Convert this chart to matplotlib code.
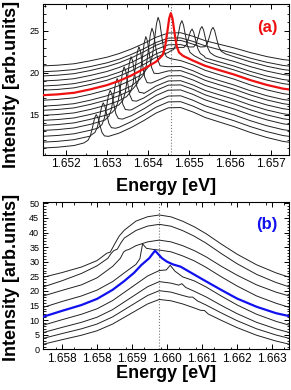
import numpy as np
import matplotlib.pyplot as plt
from matplotlib.ticker import MultipleLocator, FixedLocator

plt.rcParams['font.family'] = ['Liberation Sans', 'DejaVu Sans']

# ---------------- panel (a) data ----------------
grid_a = [1.6514, 1.6518, 1.6522, 1.6526, 1.6530, 1.6533, 1.6536, 1.6539, 1.6542, 1.6545,
          1.6548, 1.6551, 1.6554, 1.6557, 1.6561, 1.6565, 1.6569, 1.6573, 1.6576]
# broad background of each spectrum (bottom to top)
bg_a = [
    [11.0, 11.11, 11.31, 11.74, 12.26, 12.79, 13.47, 14.28, 15.18, 15.81, 15.84, 15.31, 14.65, 14.18, 13.57, 12.87, 12.27, 11.80, 11.60],
    [11.7, 11.81, 12.01, 12.44, 12.96, 13.49, 14.17, 14.98, 15.88, 16.51, 16.54, 16.01, 15.35, 14.88, 14.27, 13.57, 12.97, 12.50, 12.30],
    [12.4, 12.51, 12.71, 13.14, 13.66, 14.19, 14.87, 15.68, 16.58, 17.21, 17.24, 16.71, 16.05, 15.58, 14.97, 14.27, 13.67, 13.20, 13.00],
    [13.1, 13.21, 13.41, 13.84, 14.36, 14.89, 15.57, 16.38, 17.28, 17.91, 17.94, 17.41, 16.75, 16.28, 15.67, 14.97, 14.37, 13.90, 13.70],
    [13.7, 13.81, 14.01, 14.44, 14.96, 15.49, 16.17, 16.98, 17.88, 18.51, 18.54, 18.01, 17.35, 16.88, 16.27, 15.57, 14.97, 14.50, 14.30],
    [14.3, 14.41, 14.60, 15.02, 15.54, 16.06, 16.72, 17.51, 18.40, 19.01, 19.04, 18.53, 17.88, 17.42, 16.83, 16.14, 15.55, 15.10, 14.90],
    [14.9, 15.01, 15.20, 15.62, 16.14, 16.66, 17.32, 18.11, 19.00, 19.61, 19.64, 19.13, 18.48, 18.02, 17.43, 16.74, 16.15, 15.70, 15.50],
    [15.5, 15.61, 15.80, 16.22, 16.74, 17.26, 17.92, 18.71, 19.60, 20.21, 20.24, 19.73, 19.08, 18.62, 18.03, 17.34, 16.75, 16.30, 16.10],
    [16.0, 16.11, 16.30, 16.72, 17.24, 17.76, 18.42, 19.21, 20.10, 20.71, 20.74, 20.23, 19.58, 19.12, 18.53, 17.84, 17.25, 16.80, 16.60],
    [16.7, 16.81, 17.00, 17.42, 17.94, 18.46, 19.12, 19.91, 20.80, 21.41, 21.44, 20.93, 20.28, 19.82, 19.23, 18.54, 17.95, 17.50, 17.30],
    [17.3, 17.41, 17.60, 18.01, 18.51, 19.02, 19.67, 20.45, 21.31, 21.91, 21.94, 21.44, 20.81, 20.36, 19.78, 19.11, 18.54, 18.09, 17.90],
    [17.9, 18.00, 18.19, 18.60, 19.09, 19.59, 20.22, 20.98, 21.83, 22.41, 22.44, 21.96, 21.34, 20.90, 20.33, 19.68, 19.12, 18.69, 18.50],
    [18.4, 18.50, 18.69, 19.08, 19.56, 20.05, 20.67, 21.41, 22.24, 22.82, 22.85, 22.37, 21.77, 21.34, 20.79, 20.15, 19.60, 19.18, 19.00],
    [19.0, 19.10, 19.28, 19.67, 20.14, 20.62, 21.22, 21.95, 22.76, 23.32, 23.35, 22.88, 22.30, 21.88, 21.34, 20.72, 20.19, 19.78, 19.60],
    [19.6, 19.70, 19.88, 20.26, 20.72, 21.18, 21.77, 22.48, 23.27, 23.82, 23.85, 23.40, 22.83, 22.42, 21.90, 21.29, 20.77, 20.37, 20.20],
    [20.1, 20.20, 20.37, 20.73, 21.17, 21.61, 22.18, 22.85, 23.60, 24.12, 24.15, 23.73, 23.19, 22.80, 22.30, 21.73, 21.24, 20.86, 20.70],
    [20.8, 20.89, 21.06, 21.42, 21.84, 22.28, 22.83, 23.48, 24.22, 24.73, 24.76, 24.34, 23.81, 23.44, 22.96, 22.40, 21.92, 21.56, 21.40],
]
# sharp QD line on each spectrum (None = no line visible)
peak_center = [1.65274, 1.65291, 1.65308, 1.65325, 1.65342, 1.65359, 1.65378,
               1.65395, 1.65410, 1.65425, 1.65456, 1.65483, 1.65508, 1.65532,
               1.65559, None, None]
peak_offsets = [-0.0003, -0.0002, -0.00014, -0.00009, -0.00004, 0.0,
                0.00004, 0.00009, 0.00014, 0.0002, 0.0003]
peak_vals = [
    [11.62, 11.94, 12.51, 13.49, 14.58, 15.0, 14.68, 13.73, 12.87, 12.46, 12.40],
    [12.53, 12.88, 13.53, 14.67, 15.91, 16.4, 16.03, 14.93, 13.93, 13.44, 13.37],
    [13.38, 13.81, 14.58, 15.90, 17.34, 17.9, 17.48, 16.22, 15.08, 14.53, 14.46],
    [14.34, 14.81, 15.65, 17.10, 18.68, 19.3, 18.84, 17.46, 16.21, 15.61, 15.54],
    [15.22, 15.74, 16.68, 18.27, 20.02, 20.7, 20.20, 18.69, 17.32, 16.66, 16.60],
    [16.14, 16.69, 17.66, 19.34, 21.18, 21.9, 21.38, 19.78, 18.34, 17.65, 17.58],
    [17.14, 17.73, 18.74, 20.47, 22.35, 23.1, 22.57, 20.95, 19.50, 18.81, 18.76],
    [18.15, 18.77, 19.81, 21.59, 23.53, 24.3, 23.77, 22.11, 20.63, 19.93, 19.89],
    [19.19, 19.78, 20.82, 22.60, 24.54, 25.3, 24.74, 23.06, 21.54, 20.82, 20.75],
    [20.32, 20.91, 21.98, 23.82, 25.82, 26.6, 26.02, 24.27, 22.68, 21.91, 21.67],
    [21.59, 22.10, 23.05, 24.70, 26.47, 27.1, 26.48, 24.78, 23.23, 22.41, 22.00],
    [22.53, 22.77, 23.39, 24.54, 25.78, 26.2, 25.68, 24.35, 23.12, 22.41, 22.02],
    [23.02, 23.01, 23.35, 24.10, 24.93, 25.2, 24.79, 23.78, 22.85, 22.29, 21.94],
    [23.06, 23.07, 23.46, 24.28, 25.21, 25.5, 25.07, 23.98, 22.98, 22.39, 22.04],
    [23.06, 23.09, 23.47, 24.25, 25.11, 25.4, 25.01, 24.01, 23.09, 22.55, 22.25],
    None,
    None,
]
red_index = 10
resonance_a = 1.65456

# ---------------- panel (b) data ----------------
# energies given as offset from 1.6600 eV in units of 0.1 meV
center_b = 1.6600
de_b = [
    [-29.8, -25, -20, -16, -12, -9, -6, -3, 0, 3, 6, 9, 10.6, 11.6, 12.6, 16, 20, 25, 30, 33.4],
    [-29.8, -25, -20, -16, -12, -9, -6, -3, 0, 3, 6, 7.6, 8.6, 9.8, 12, 16, 20, 25, 30, 33.4],
    [-29.8, -25, -20, -16, -12, -9, -6, -3, 0, 3, 5, 5.8, 6.8, 9, 12, 16, 20, 25, 30, 33.4],
    [-29.8, -25, -20, -16, -12, -9, -6, -3, 0, 1.8, 2.8, 4, 6, 9, 12, 16, 20, 25, 30, 33.4],
    [-29.8, -25, -20, -16, -12, -9, -6.5, -4.6, -2.6, -1.1, 0.7, 2.0, 3.5, 5.5, 9, 12, 16, 20, 25, 30, 33.4],
    [-29.8, -25, -20, -16, -12, -9, -6, -5, -4.3, -3.3, -1.5, 0, 3, 6, 9, 12, 16, 20, 25, 30, 33.4],
    [-29.8, -25, -20, -16, -12, -10, -9.2, -8.6, -7.8, -6, -3, 0, 3, 6, 9, 12, 16, 20, 25, 30, 33.4],
    [-29.8, -25, -20, -16, -13.2, -12.4, -11.7, -10.8, -9.8, -9, -6, -3, 0, 3, 6, 9, 12, 16, 20, 25, 30, 33.4],
    [-29.8, -25, -20, -16, -14.4, -13.5, -12.6, -11.5, -10.3, -9, -6, -3, 0, 3, 6, 9, 12, 16, 20, 25, 30, 33.4],
]
int_b = [
    [1.8, 3.33, 4.86, 6.39, 8.69, 10.98, 13.28, 15.57, 17.1, 16.64, 15.57, 14.19, 13.4, 13.3, 12.1, 9.91, 7.46, 4.86, 2.87, 1.8],
    [3.8, 5.43, 7.06, 8.69, 11.14, 13.58, 16.03, 18.47, 20.1, 19.61, 18.47, 17.9, 17.9, 16.6, 15.21, 12.44, 9.83, 7.06, 4.94, 3.8],
    [5.8, 7.54, 9.28, 11.02, 13.63, 16.24, 18.85, 21.46, 23.2, 22.68, 22.0, 22.5, 21.2, 19.89, 17.98, 15.02, 12.24, 9.28, 7.02, 5.8],
    [8.3, 10.17, 12.04, 13.91, 16.72, 19.52, 22.33, 25.13, 27.0, 27.2, 28.8, 26.8, 24.83, 23.45, 21.39, 18.21, 15.22, 12.04, 9.61, 8.3],
    [11.2, 13.2, 15.2, 17.3, 20.4, 23.4, 26.2, 28.9, 31.2, 33.8, 31.2, 30.0, 29.1, 28.3, 25.6, 23.3, 20.3, 17.4, 14.6, 12.4, 11.4],
    [14.4, 16.4, 18.3, 20.3, 23.2, 26.2, 29.1, 31.0, 36.1, 34.6, 34.2, 34.0, 33.4, 32.0, 30.3, 28.1, 24.8, 21.7, 18.3, 15.8, 14.4],
    [18.3, 20.2, 22.1, 24.5, 28.4, 31.2, 33.3, 33.9, 34.2, 35.5, 36.8, 37.4, 36.8, 35.5, 33.8, 31.7, 28.4, 25.4, 22.1, 19.6, 18.3],
    [21.4, 23.5, 26.0, 28.6, 31.2, 32.8, 33.8, 34.3, 36.6, 38.1, 40.7, 42.2, 42.8, 42.16, 40.66, 38.73, 36.38, 32.74, 29.32, 25.68, 22.9, 21.4],
    [24.7, 26.3, 28.2, 30.4, 32.0, 32.9, 33.3, 36.0, 38.8, 40.8, 43.9, 45.4, 46.0, 45.36, 43.87, 41.95, 39.61, 35.99, 32.58, 28.96, 26.19, 24.7],
]
blue_index = 4
resonance_b = 1.6600
xticks_b = [1.6575, 1.6584, 1.6593, 1.6602, 1.6611, 1.6620, 1.6629]
xticklabels_b = ['1.658', '1.658', '1.659', '1.660', '1.661', '1.662', '1.663']

fig = plt.figure(figsize=(2.91, 3.90), dpi=100)
ax1 = fig.add_axes([0.149, 0.603, 0.845, 0.387])
ax2 = fig.add_axes([0.149, 0.104, 0.845, 0.377])

# panel (a)
grid = np.array(grid_a)
for i in range(len(bg_a)):
    e = grid
    y = np.array(bg_a[i])
    if peak_center[i] is not None:
        keep = np.abs(grid - peak_center[i]) > 0.0003
        e = np.concatenate([grid[keep], peak_center[i] + np.array(peak_offsets)])
        y = np.concatenate([y[keep], peak_vals[i]])
        order = np.argsort(e)
        e, y = e[order], y[order]
    if i == red_index:
        ax1.plot(e, y, color='#ee1111', lw=1.6, zorder=3)
    else:
        ax1.plot(e, y, color='#222222', lw=0.7, zorder=2)
ax1.axvline(resonance_a, color='#777777', lw=0.8, ls=':', zorder=1)

ax1.set_xlim(1.65145, 1.65745)
ax1.set_ylim(10.2, 28.2)
ax1.xaxis.set_major_locator(MultipleLocator(0.001))
ax1.xaxis.set_minor_locator(MultipleLocator(0.0005))
ax1.yaxis.set_major_locator(FixedLocator([15, 20, 25]))
ax1.yaxis.set_minor_locator(MultipleLocator(1))
ax1.xaxis.set_major_formatter(plt.FuncFormatter(lambda v, p: '%.3f' % v))
ax1.text(0.909, 0.844, '(a)', transform=ax1.transAxes, color='#ee1111',
         fontsize=12, fontweight='bold', ha='center', va='center')

# panel (b)
for i in range(len(de_b)):
    e = center_b + np.array(de_b[i]) * 1e-4
    if i == blue_index:
        ax2.plot(e, int_b[i], color='#1111ee', lw=1.6, zorder=3)
    else:
        ax2.plot(e, int_b[i], color='#222222', lw=0.7, zorder=2)
ax2.axvline(resonance_b, color='#777777', lw=0.8, ls=':', zorder=1)

ax2.set_xlim(1.65702, 1.66334)
ax2.set_ylim(0, 50.3)
ax2.set_xticks(xticks_b)
ax2.set_xticklabels(xticklabels_b)
ax2.xaxis.set_minor_locator(MultipleLocator(0.00045))
ax2.yaxis.set_major_locator(MultipleLocator(5))
ax2.yaxis.set_minor_locator(MultipleLocator(1))
ax2.text(0.909, 0.849, '(b)', transform=ax2.transAxes, color='#1111ee',
         fontsize=12, fontweight='bold', ha='center', va='center')

for ax, ylab_y, xlab_y in [(ax1, 0.464, -0.152), (ax2, 0.49, -0.107)]:
    ax.tick_params(which='both', direction='in', top=True, right=True)
    ax.tick_params(which='major', length=3.5, width=0.7)
    ax.tick_params(which='minor', length=1.8, width=0.6)
    ax.tick_params(axis='x', labelsize=8.5, pad=2.5)
    ax.tick_params(axis='y', labelsize=6.5, pad=3)
    for s in ax.spines.values():
        s.set_linewidth(0.8)
    ax.set_xlabel('Energy [eV]', fontsize=13, fontweight='bold')
    ax.set_ylabel('Intensity [arb.units]', fontsize=13, fontweight='bold')
    ax.xaxis.set_label_coords(0.5, xlab_y)
    ax.yaxis.set_label_coords(-0.095, ylab_y)

fig.savefig('out.png', dpi=100)
